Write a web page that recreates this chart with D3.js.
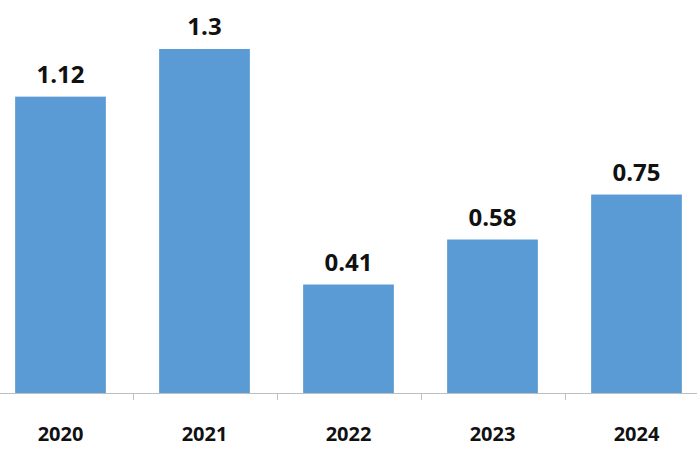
<!DOCTYPE html>
<html><head><meta charset="utf-8">
<script src="https://cdn.jsdelivr.net/npm/d3@7"></script>
<style>body{margin:0;background:#fff}</style></head>
<body><svg id="c" width="697" height="461"></svg>
<script>
const categories = ["2020","2021","2022","2023","2024"];
const values = [1.12, 1.3, 0.41, 0.58, 0.75];
const labels = ["1.12","1.3","0.41","0.58","0.75"];

const svg = d3.select("#c");
const x = d3.scaleBand().domain(categories).range([-11.5, 708.5]).paddingInner(0.37).paddingOuter(0.185);
const y = d3.scaleLinear().domain([0, 1.3]).range([393, 49]);
const step = x.step();

svg.selectAll("rect.bar").data(values).join("rect")
  .attr("x", (d,i)=>x(categories[i])).attr("width", x.bandwidth())
  .attr("y", d=>y(d)).attr("height", d=>y(0)-y(d)).attr("fill", "#5B9BD5");

svg.selectAll("text.v").data(values).join("text")
  .attr("x", (d,i)=>x(categories[i]) + x.bandwidth()/2).attr("y", d=>y(d)-14)
  .attr("text-anchor","middle").attr("font-family","Open Sans, sans-serif")
  .attr("font-weight","bold").attr("font-size",24).attr("fill","#111")
  .text((d,i)=>labels[i]);

svg.append("line").attr("x1",0).attr("x2",697).attr("y1",y(0)+0.5).attr("y2",y(0)+0.5)
  .attr("stroke","#BFBFBF").attr("stroke-width",1);
categories.slice(1).forEach(c=>{
  const tx = Math.round(x(c) - (step - x.bandwidth())/2)+0.5;
  svg.append("line").attr("x1",tx).attr("x2",tx).attr("y1",y(0)).attr("y2",y(0)+7).attr("stroke","#BFBFBF");
});
svg.selectAll("text.c").data(categories).join("text")
  .attr("x", d=>x(d)+x.bandwidth()/2).attr("y", 441)
  .attr("text-anchor","middle").attr("font-family","Open Sans, sans-serif")
  .attr("font-weight","bold").attr("font-size",20).attr("fill","#111").text(d=>d);
</script></body></html>
